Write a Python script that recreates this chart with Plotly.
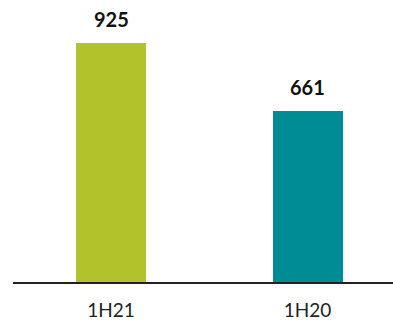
import plotly.graph_objects as go

categories = ["1H21", "1H20"]
values = [925, 661]
colors = ["#B2C22A", "#008C95"]

fig = go.Figure(go.Bar(
    x=categories, y=values,
    marker=dict(color=colors, line=dict(width=0)),
    width=0.356,
    cliponaxis=False,
    hoverinfo="skip",
))

for c, v in zip(categories, values):
    fig.add_annotation(
        x=c, y=v, text=f"<b>{v}</b>", showarrow=False,
        xanchor="center", yanchor="bottom", yshift=10,
        font=dict(family="Lato", size=20, color="#111111"),
    )

fig.update_layout(
    width=393, height=323,
    margin=dict(l=13, r=0, t=24, b=41),
    paper_bgcolor="white", plot_bgcolor="white",
    showlegend=False,
    bargap=0,
    xaxis=dict(
        range=[-0.499, 1.435],
        showline=True, linecolor="#222222", linewidth=2,
        showgrid=False, ticks="",
        tickfont=dict(family="Lato", size=19, color="#222222"),
        ticklabelstandoff=10,
    ),
    yaxis=dict(range=[0, 1000], visible=False, showgrid=False, zeroline=False),
)

fig.write_html(
    "out.html",
    config={"displayModeBar": False},
    post_script="document.body.style.margin='0';document.body.style.padding='0';",
)
